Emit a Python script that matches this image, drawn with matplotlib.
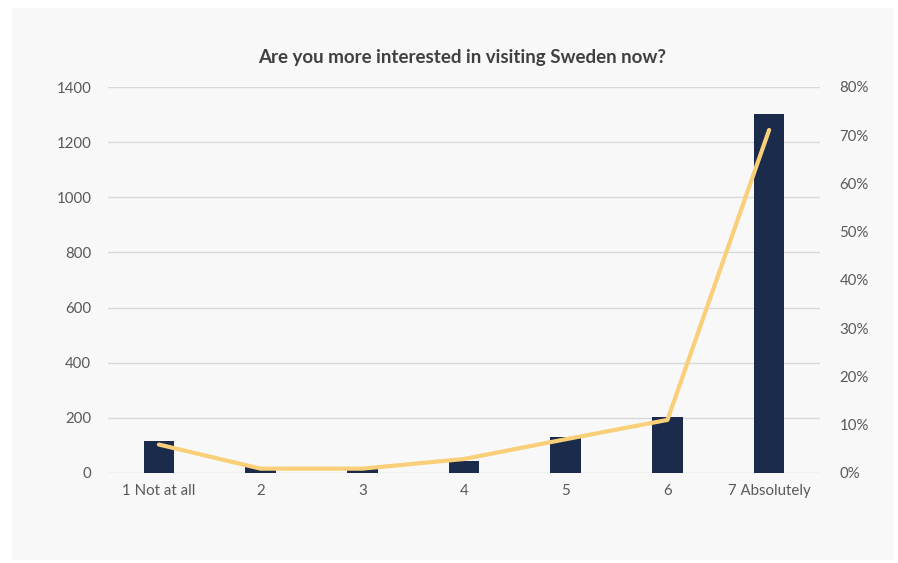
import matplotlib.pyplot as plt
import matplotlib.patches as mpatches
from matplotlib.ticker import FuncFormatter

categories = ["1 Not at all", "2", "3", "4", "5", "6", "7 Absolutely"]
counts = [115, 20, 14, 44, 130, 202, 1302]
shares = [0.059, 0.009, 0.009, 0.029, 0.070, 0.110, 0.711]

plt.rcParams['font.family'] = ['Lato', 'DejaVu Sans']

fig = plt.figure(figsize=(8.98, 5.63), dpi=100, facecolor='white')
fig.patches.append(mpatches.Rectangle((12 / 898, 3 / 563), 881 / 898, 552 / 563,
                                      transform=fig.transFigure, facecolor='#f8f8f8',
                                      edgecolor='none', zorder=-10))

ax = fig.add_axes([108 / 898, 90 / 563, 712 / 898, 386 / 563])
ax.set_facecolor('none')
x = range(len(categories))
ax.bar(x, counts, width=0.3, color='#1a2b4c', zorder=3)
ax.set_xlim(-0.5, 6.5)
ax.set_ylim(0, 1400)
ax.set_yticks(range(0, 1401, 200))
ax.set_xticks(list(x))
ax.set_xticklabels(categories)
ax.grid(axis='y', color='#d9d9d9', linewidth=1, zorder=0)
for s in ax.spines.values():
    s.set_visible(False)
ax.tick_params(length=0, labelsize=10.8, colors='#595959')
ax.tick_params(axis='y', pad=12)
ax.tick_params(axis='x', pad=8)

ax2 = ax.twinx()
ax2.plot(list(x), shares, color='#f9cf7a', linewidth=3, solid_capstyle='round', zorder=4)
ax2.set_ylim(0, 0.8)
ax2.set_yticks([i / 10 for i in range(9)])
ax2.yaxis.set_major_formatter(FuncFormatter(lambda v, p: f"{v * 100:.0f}%"))
for s in ax2.spines.values():
    s.set_visible(False)
ax2.tick_params(length=0, labelsize=10.8, colors='#595959', pad=14)

fig.text(462 / 898, 1 - 58 / 563, "Are you more interested in visiting Sweden now?",
         ha='center', va='center', fontsize=13.5, fontweight='bold', color='#404040')

fig.savefig('out.png', dpi=100, facecolor='white')
